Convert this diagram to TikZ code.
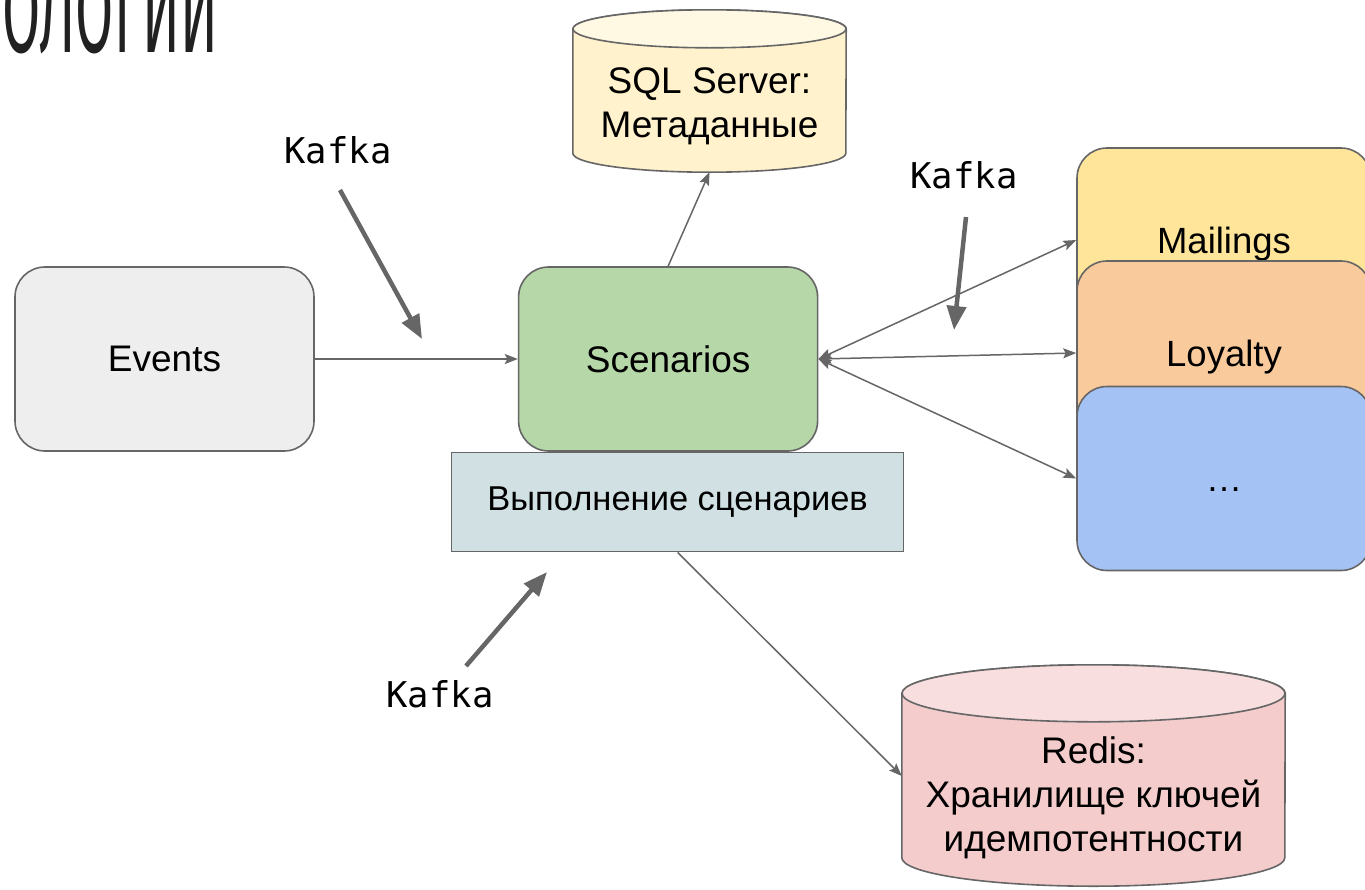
\documentclass[tikz,border=0pt]{standalone}
\usepackage{graphicx}
\usepackage{fontspec}
\setmainfont{Liberation Sans}
\newfontfamily\kafkafont{DejaVu Sans Mono}
\newfontfamily\titlefont{Fira Sans}
\usetikzlibrary{arrows.meta, positioning, backgrounds}
\definecolor{linegray}{HTML}{666666}
\definecolor{eventsfill}{HTML}{EEEEEE}
\definecolor{scenfill}{HTML}{B6D7A8}
\definecolor{runfill}{HTML}{D0E0E3}
\definecolor{sqlfill}{HTML}{FFF2CC}
\definecolor{sqltop}{HTML}{FFF8E3}
\definecolor{redisfill}{HTML}{F4CCCC}
\definecolor{redistop}{HTML}{F8DEDE}
\definecolor{mailfill}{HTML}{FFE599}
\definecolor{loyalfill}{HTML}{F9CB9C}
\definecolor{otherfill}{HTML}{A4C2F4}

\begin{document}
\begin{tikzpicture}[x=1pt, y=1pt,
    box/.style={draw=linegray, line width=1.6pt, rounded corners=30pt, minimum width=299pt, minimum height=184pt, font=\fontsize{37}{44}\selectfont},
    service/.style={box, minimum width=294pt, text height=30pt, text depth=4pt, font=\fontsize{36.5}{44}\selectfont},
    runbox/.style={draw=linegray, line width=1.6pt, fill=runfill, minimum width=452pt, minimum height=99pt, font=\fontsize{34.5}{40}\selectfont},
    dbtext/.style={inner sep=0pt, align=center, font=\fontsize{37}{44}\selectfont},
    dbshape/.style={draw=linegray, line width=1.6pt},
    kafka/.style={inner sep=2pt, font=\kafkafont\fontsize{35.5}{40}\selectfont},
    link/.style={draw=linegray, line width=1.5pt, -{Stealth[length=13pt, width=10pt, inset=2.5pt]}},
    duplex/.style={draw=linegray, line width=1.5pt, {Stealth[length=13pt, width=10pt, inset=2.5pt]}-{Stealth[length=13pt, width=10pt, inset=2.5pt]}},
    kafkaarrow/.style={draw=linegray, line width=4.5pt, -{Triangle[length=24pt, width=19pt]}}
    ]
    \useasboundingbox (0,0) rectangle (1365,-889);
    \node[anchor=base west, inner sep=0pt, text=black!87] (title) at (2,-52) {\titlefont\fontsize{123}{123}\selectfont\scalebox{0.45}[1]{ОЛОГИИ}};

    \node[box, fill=eventsfill] (events) at (164.5,-359) {Events};
    \node[box, fill=scenfill, right=203pt of events] (scenarios) {Scenarios};
    \node[runbox, below=0pt of scenarios, xshift=9.5pt] (run) {Выполнение сценариев};

    \node[service, fill=mailfill] (mailings) at (1224,-240) {Mailings};
    \node[service, fill=loyalfill] (loyalty) at (1224,-353) {Loyalty};
    \node[service, fill=otherfill] (other) at (1224,-478.5) {…};

    \node[dbtext, minimum width=273pt, minimum height=117pt] (sql) at (709.5,-106.5) {SQL Server:\\Метаданные};
    \node[dbtext, minimum width=383pt, minimum height=152pt] (redis) at (1093.5,-798) {Redis:\\Хранилище ключей\\идемпотентности};
    \begin{scope}[on background layer]
    \fill[white] (0,0) rectangle (1365,-889);
    \draw[dbshape, fill=sqlfill] ([yshift=19pt]sql.north west) -- ([yshift=12pt]sql.south west)
        arc[start angle=180, end angle=360, x radius=136.5, y radius=19] -- ([yshift=19pt]sql.north east)
        arc[start angle=0, end angle=180, x radius=136.5, y radius=19] -- cycle;
    \draw[dbshape, fill=sqltop] ([yshift=19pt]sql.north) ellipse[x radius=136.5, y radius=19];
    \draw[dbshape, fill=redisfill] ([yshift=28.5pt]redis.north west) -- ([yshift=16.5pt]redis.south west)
        arc[start angle=180, end angle=360, x radius=191.5, y radius=28.5] -- ([yshift=28.5pt]redis.north east)
        arc[start angle=0, end angle=180, x radius=191.5, y radius=28.5] -- cycle;
    \draw[dbshape, fill=redistop] ([yshift=28.5pt]redis.north) ellipse[x radius=191.5, y radius=28.5];
    \end{scope}

    \draw[link] (events) -- (scenarios);
    \draw[link] (scenarios.north) -- ([yshift=-7pt]sql.south);
    \draw[link] (run.south) -- ([yshift=22pt]redis.west);
    \draw[duplex] (scenarios.east) -- (mailings.west);
    \draw[duplex] (scenarios.east) -- (loyalty.west);
    \draw[duplex] (scenarios.east) -- (other.west);

    \node[kafka] (kafkaA) at (338,-150) {Kafka};
    \node[kafka] (kafkaB) at (964,-175) {Kafka};
    \node[kafka] (kafkaC) at (440,-694) {Kafka};
    \coordinate (A1) at (340,-190);
    \coordinate (A2) at (422,-339);
    \coordinate (B1) at (966,-217);
    \coordinate (B2) at (954,-330);
    \coordinate (C1) at (466,-666);
    \coordinate (C2) at (547,-572);
    \draw[kafkaarrow] (A1) -- (A2);
    \draw[kafkaarrow] (B1) -- (B2);
    \draw[kafkaarrow] (C1) -- (C2);
\end{tikzpicture}
\end{document}
